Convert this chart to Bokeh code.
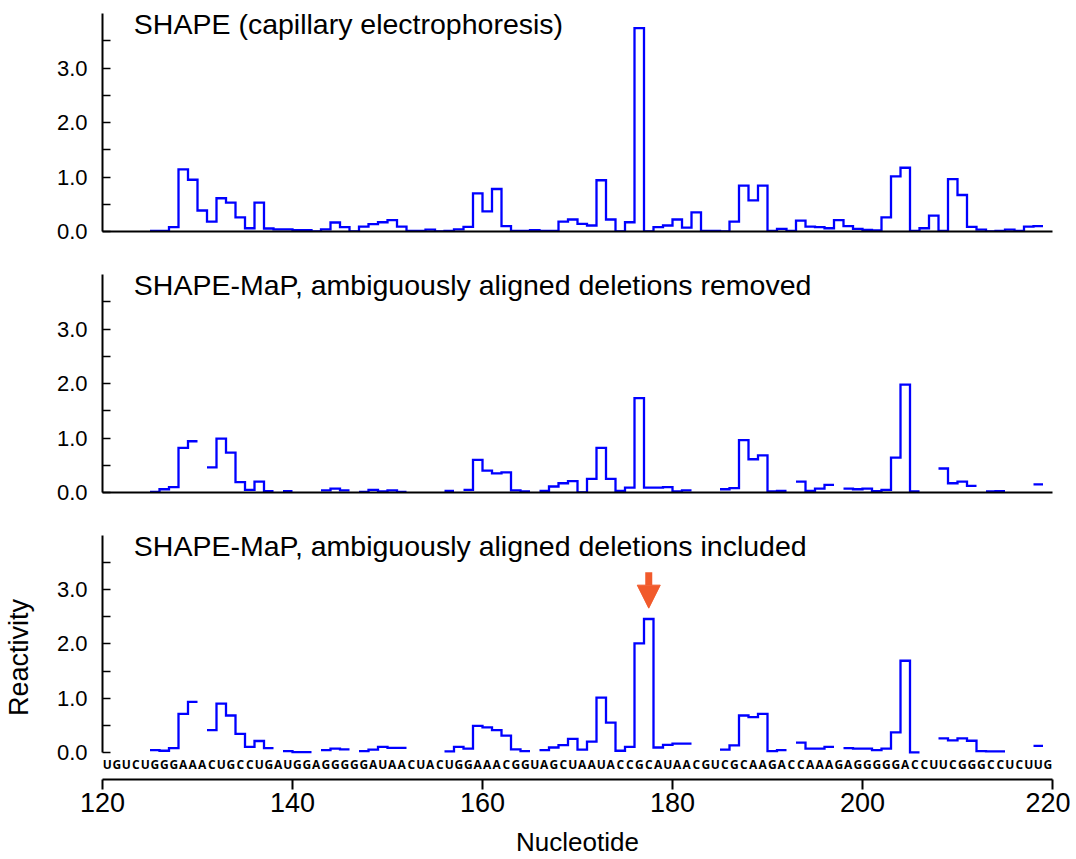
import numpy as np
from bokeh.plotting import figure
from bokeh.layouts import column
from bokeh.models import Range1d, FixedTicker, Label, Arrow, NormalHead, PrintfTickFormatter
from bokeh.embed import file_html
from bokeh.resources import INLINE
from bokeh.core.properties import value

# ---------------- data ----------------
# nucleotide n occupies the interval [n-1, n] on the x axis
nucleotides = list(range(126, 220))

shape_ce = [
    0.01, 0.01, 0.08, 1.14, 0.95, 0.385, 0.18, 0.61, 0.53, 0.26,   # 126-135
    0.06, 0.53, 0.055, 0.04, 0.04, 0.025, 0.025, 0.0, 0.04, 0.165,  # 136-145
    0.08, 0.0, 0.09, 0.135, 0.17, 0.21, 0.09, 0.01, 0.01, 0.035,    # 146-155
    0.0, 0.01, 0.04, 0.085, 0.70, 0.37, 0.78, 0.10, 0.01, 0.01,     # 156-165
    0.025, 0.01, 0.01, 0.18, 0.22, 0.14, 0.11, 0.94, 0.22, 0.0,     # 166-175
    0.17, 3.73, 0.0, 0.08, 0.11, 0.22, 0.07, 0.35, 0.01, 0.01,      # 176-185
    0.0, 0.18, 0.84, 0.57, 0.84, 0.01, 0.05, 0.01, 0.20, 0.09,      # 186-195
    0.08, 0.06, 0.21, 0.10, 0.05, 0.03, 0.02, 0.26, 1.01, 1.17,     # 196-205
    0.01, 0.06, 0.29, 0.01, 0.96, 0.67, 0.085, 0.035, 0.0, 0.01,    # 206-215
    0.035, 0.01, 0.09, 0.10,                                        # 216-219
]

map_removed = [
    0.01, 0.06, 0.10, 0.82, 0.94, None, 0.46, 0.99, 0.73, 0.19,     # 126-135
    0.05, 0.20, 0.025, None, 0.025, None, None, None, 0.04, 0.07,   # 136-145
    0.04, None, 0.01, 0.05, 0.02, 0.04, 0.01, None, None, None,     # 146-155
    None, 0.03, None, 0.05, 0.60, 0.40, 0.35, 0.37, 0.04, 0.02,     # 156-165
    None, 0.03, 0.11, 0.17, 0.21, 0.0, 0.25, 0.82, 0.25, 0.03,      # 166-175
    0.09, 1.73, 0.09, 0.09, 0.10, 0.02, 0.04, None, None, None,     # 176-185
    0.06, 0.08, 0.96, 0.61, 0.68, 0.02, 0.03, None, 0.20, 0.03,     # 186-195
    0.07, 0.14, None, 0.07, 0.06, 0.07, 0.025, 0.05, 0.64, 1.98,    # 196-205
    0.02, None, None, 0.44, 0.17, 0.20, 0.12, None, 0.02, 0.025,    # 206-215
    None, None, None, 0.15,                                         # 216-219
]

map_included = [
    0.04, 0.03, 0.08, 0.71, 0.93, None, 0.41, 0.90, 0.68, 0.34,     # 126-135
    0.10, 0.21, 0.08, None, 0.025, 0.005, 0.005, None, 0.04, 0.07,  # 136-145
    0.055, None, 0.025, 0.05, 0.10, 0.085, 0.085, None, None, None, # 146-155
    None, 0.02, 0.10, 0.07, 0.49, 0.46, 0.41, 0.31, 0.055, 0.025,   # 156-165
    None, 0.04, 0.09, 0.135, 0.25, 0.05, 0.20, 1.01, 0.55, 0.03,    # 166-175
    0.10, 2.01, 2.46, 0.09, 0.14, 0.16, 0.16, None, None, None,     # 176-185
    0.05, 0.13, 0.68, 0.65, 0.71, 0.025, 0.04, None, 0.18, 0.07,    # 186-195
    0.07, 0.10, None, 0.08, 0.07, 0.07, 0.04, 0.07, 0.37, 1.69,     # 196-205
    0.0, None, None, 0.26, 0.22, 0.26, 0.215, 0.025, 0.02, 0.02,    # 206-215
    None, None, None, 0.12,                                         # 216-219
]

sequence = ("UGUCUGGGAAACUGCCUGAUGGAGGGGGAUAACUACUGGAAACGGUAGCU"
            "AAUACCGCAUAACGUCGCAAGACCAAAGAGGGGGACCUUCGGGCCUCUUG")
seq_first_nt = 121

titles = [
    "SHAPE (capillary electrophoresis)",
    "SHAPE-MaP, ambiguously aligned deletions removed",
    "SHAPE-MaP, ambiguously aligned deletions included",
]
series = [shape_ce, map_removed, map_included]

y_major = [0, 1, 2, 3]
y_minor = [0.5, 1.5, 2.5, 3.5]
x_ticks = [120, 140, 160, 180, 200, 220]
arrow_nt = 178  # highlighted nucleotide in the bottom panel

# ---------------- styling ----------------
BLUE = "#0000FF"
ORANGE = "#F15A2B"
FONT = "Liberation Sans"


def step_path(nts, vals):
    xs, ys = [], []
    for n, v in zip(nts, vals):
        if v is None:
            if xs and not np.isnan(xs[-1]):
                xs.append(np.nan)
                ys.append(np.nan)
            continue
        xs += [n - 1, n]
        ys += [v, v]
    return xs, ys


def style_y(p, label=""):
    ax = p.yaxis[0]
    ax.bounds = (0, 4)
    ax.ticker = FixedTicker(ticks=y_major, minor_ticks=y_minor)
    ax.formatter = PrintfTickFormatter(format="%.1f")
    ax.major_tick_in = 8
    ax.major_tick_out = 0
    ax.minor_tick_in = 8
    ax.minor_tick_out = 0
    ax.major_tick_line_width = 1.5
    ax.minor_tick_line_width = 1.5
    ax.axis_line_width = 2
    ax.major_label_standoff = 15
    ax.major_label_text_font = FONT
    ax.major_label_text_font_size = "22px"
    ax.major_label_text_color = "black"
    ax.axis_label = label
    ax.axis_label_text_font = FONT
    ax.axis_label_text_font_size = "27px"
    ax.axis_label_text_font_style = "normal"
    ax.axis_label_text_color = "black"
    ax.axis_label_standoff = 20


figs = []
frame_h = [218, 218, 245]
y_lo = [0, 0, -0.5]
borders_top = [13, 12, 12]
borders_bottom = [31, 31, 79]

for i in range(3):
    h = borders_top[i] + frame_h[i] + borders_bottom[i]
    p = figure(width=1070, height=h, x_range=Range1d(120, 220), y_range=Range1d(y_lo[i], 4),
               output_backend="svg", toolbar_location=None,
               min_border_left=102, min_border_right=18,
               min_border_top=borders_top[i], min_border_bottom=borders_bottom[i])
    p.outline_line_color = None
    p.xgrid.visible = False
    p.ygrid.visible = False
    p.background_fill_color = "white"
    p.border_fill_color = "white"

    xs, ys = step_path(nucleotides, series[i])
    p.line(xs, ys, line_color=BLUE, line_width=2.3, line_join="miter")

    p.add_layout(Label(x=123.3, y=3.80, text=titles[i], text_font=FONT,
                       text_font_size="28.5px", text_color="black",
                       text_baseline="alphabetic", text_align="left"))

    style_y(p, "Reactivity" if i == 2 else "")

    xa = p.xaxis[0]
    xa.axis_line_width = 2
    if i < 2:
        xa.ticker = FixedTicker(ticks=[], minor_ticks=[])
        xa.major_tick_line_color = None
        xa.minor_tick_line_color = None
    else:
        xa.ticker = FixedTicker(ticks=x_ticks, minor_ticks=[])
        xa.major_tick_in = 0
        xa.major_tick_out = 10
        xa.major_tick_line_width = 2
        xa.minor_tick_line_color = None
        xa.major_label_standoff = 3
        xa.major_label_text_font = FONT
        xa.major_label_text_font_size = "27px"
        xa.major_label_text_color = "black"
        xa.axis_label = "Nucleotide"
        xa.axis_label_text_font = FONT
        xa.axis_label_text_font_size = "26px"
        xa.axis_label_text_font_style = "normal"
        xa.axis_label_text_color = "black"
        xa.axis_label_standoff = 12

        # sequence letters
        seq_x = [seq_first_nt + k - 0.5 for k in range(len(sequence))]
        p.text(x=seq_x, y=[-0.23] * len(sequence), text=list(sequence),
               text_font=value("Open Sans"), text_font_style="bold",
               text_font_size="12px", text_align="center", text_baseline="middle",
               text_color="black")

        # highlight arrow above the peak
        k = nucleotides.index(arrow_nt)
        tip = series[i][k] + 0.2
        p.add_layout(Arrow(end=NormalHead(size=23, fill_color=ORANGE, line_color=ORANGE),
                           x_start=arrow_nt - 0.5, y_start=tip + 0.66,
                           x_end=arrow_nt - 0.5, y_end=tip,
                           line_color=ORANGE, line_width=7))
    figs.append(p)

layout = column(*figs, spacing=0)
open("out.html", "w").write(file_html(layout, INLINE))
